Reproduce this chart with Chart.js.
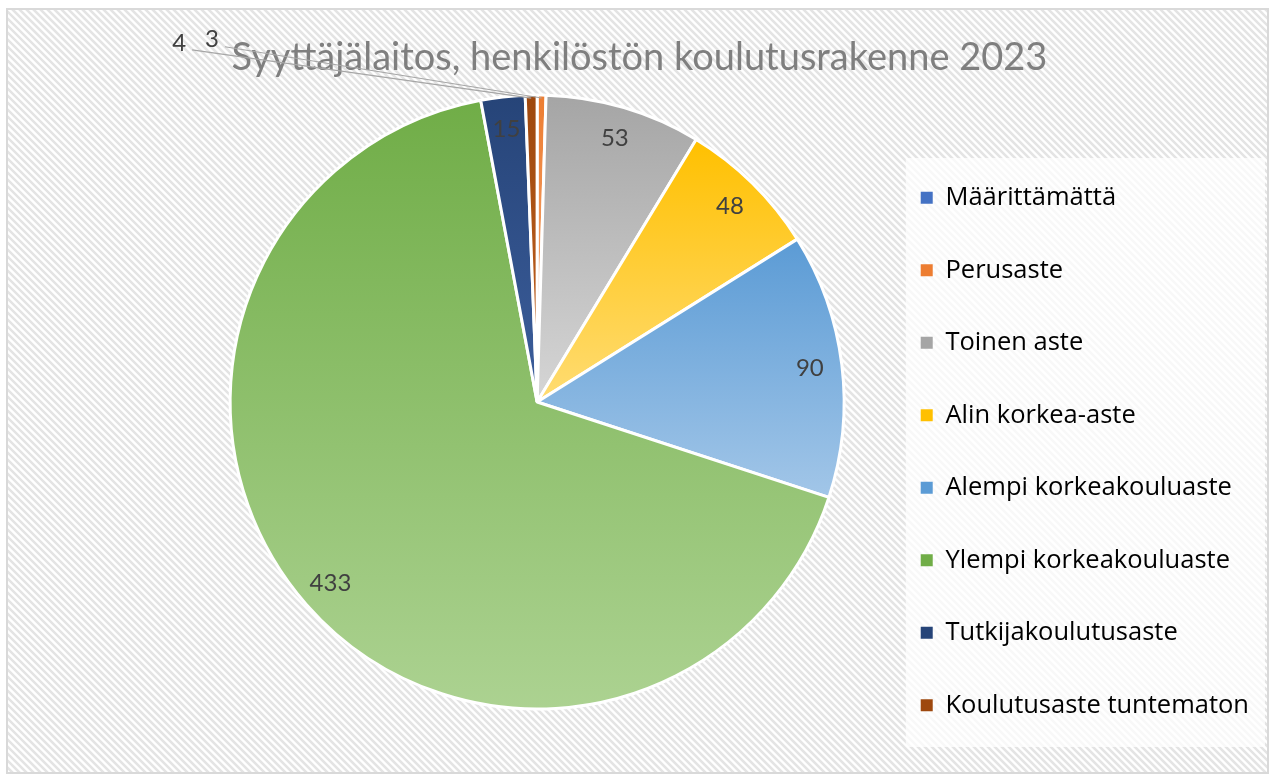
<!DOCTYPE html>
<html>
<head>
<meta charset="utf-8">
<script src="https://cdn.jsdelivr.net/npm/chart.js@4.4.1/dist/chart.umd.min.js"></script>
<style>
  html, body { margin: 0; padding: 0; background: #fff; }
  canvas { display: block; }
</style>
</head>
<body>
<canvas id="myChart" width="1275" height="774"></canvas>
<script>
// otsikko ja data
const otsikko = 'Syyttäjälaitos, henkilöstön koulutusrakenne 2023';
const koulutusasteet = [
  'Määrittämättä',
  'Perusaste',
  'Toinen aste',
  'Alin korkea-aste',
  'Alempi korkeakouluaste',
  'Ylempi korkeakouluaste',
  'Tutkijakoulutusaste',
  'Koulutusaste tuntematon'
];
const henkilot = [0, 3, 53, 48, 90, 433, 15, 4];

// värit: siivun yläreuna -> alareuna (liukuväri niinkuin Excelissä)
const varitYla = ['#4472C4', '#ED7D31', '#A5A5A5', '#FFC000', '#5B9BD5', '#70AD47', '#264478', '#9E480E'];
const varitAla = ['#8FAADC', '#F4B183', '#D6D6D6', '#FFDC73', '#A2C6E8', '#ACD291', '#3C5E9C', '#C4631F'];

const SADE = 307; // piiraan säde pikseleinä

// pienet siivut joiden arvo piirretään ulos (suhteessa säteeseen)
const ulkoTekstit = { 1: [-1.059, -1.18], 7: [-1.166, -1.17] };

const yhteensa = henkilot.reduce((a, b) => a + b, 0);

// liukuväri jokaiselle siivulle oman korkeutensa mukaan
function liukuvari(context) {
  const i = context.dataIndex;
  const ca = context.chart.chartArea;
  if (context.type !== 'data' || !ca) return varitYla[i];
  const cx = (ca.left + ca.right) / 2;
  const cy = (ca.top + ca.bottom) / 2;
  let kertyma = 0;
  for (let k = 0; k < i; k++) kertyma += henkilot[k];
  const a0 = -Math.PI / 2 + 2 * Math.PI * kertyma / yhteensa;
  const a1 = a0 + 2 * Math.PI * henkilot[i] / yhteensa;
  let ymin = Math.min(cy, cy + SADE * Math.sin(a0), cy + SADE * Math.sin(a1));
  let ymax = Math.max(cy, cy + SADE * Math.sin(a0), cy + SADE * Math.sin(a1));
  if (a0 < Math.PI / 2 && a1 > Math.PI / 2) ymax = cy + SADE; // siivu ylittää alimman kohdan
  if (ymax - ymin < 1) ymax = ymin + 1;
  const g = context.chart.ctx.createLinearGradient(0, ymin, 0, ymax);
  g.addColorStop(0, varitYla[i]);
  g.addColorStop(1, varitAla[i]);
  return g;
}

// tausta: vinoraidoitus, reunus ja selitteen vaalea laatikko
const taustaPlugin = {
  id: 'tausta',
  beforeDraw(chart) {
    const c = chart.ctx;
    const w = chart.width, h = chart.height;
    c.save();
    c.fillStyle = '#ffffff';
    c.fillRect(0, 0, w, h);
    c.beginPath();
    c.rect(7, 9, w - 14, h - 10);
    c.clip();
    c.strokeStyle = '#E4E4E4';
    c.lineWidth = 2.6;
    for (let x = -h; x < w + 10; x += 7) {
      c.beginPath();
      c.moveTo(x, 0);
      c.lineTo(x + h, h);
      c.stroke();
    }
    c.restore();
    c.save();
    c.strokeStyle = '#D9D9D9';
    c.lineWidth = 2;
    c.strokeRect(7, 9, w - 14, h - 10);
    // selitteen laatikko
    const lg = chart.legend;
    if (lg && lg.columnSizes) {
      const pad = lg.options.labels.padding;
      const yla = lg.bottom - lg.columnSizes[0].height - 27;
      const vasen = lg.left + pad - 15;
      c.fillStyle = 'rgba(255,255,255,0.72)';
      c.fillRect(vasen, yla, w - 10 - vasen, lg.bottom - 18 - yla);
    }
    c.restore();
  }
};

// otsikko ja arvot siivujen päälle
const arvoPlugin = {
  id: 'arvot',
  afterDatasetsDraw(chart) {
    const c = chart.ctx;
    c.save();
    c.font = '38px Lato';
    c.fillStyle = '#7F7F7F';
    c.textAlign = 'center';
    c.textBaseline = 'alphabetic';
    c.fillText(otsikko, chart.width / 2 + 2, 70);

    const meta = chart.getDatasetMeta(0);
    c.font = '24px Lato';
    c.fillStyle = '#404040';
    c.textBaseline = 'middle';
    meta.data.forEach((arc, i) => {
      const v = henkilot[i];
      if (!v) return;
      const mid = (arc.startAngle + arc.endAngle) / 2;
      const r = arc.outerRadius;
      if (ulkoTekstit[i]) {
        const lx = arc.x + ulkoTekstit[i][0] * r;
        const ly = arc.y + ulkoTekstit[i][1] * r;
        const tw = c.measureText(String(v)).width;
        c.strokeStyle = '#A6A6A6';
        c.lineWidth = 1.2;
        c.beginPath();
        c.moveTo(lx + tw / 2 + 6, ly + 7);
        c.lineTo(arc.x + (r - 3) * Math.cos(mid), arc.y + (r - 3) * Math.sin(mid));
        c.stroke();
        c.fillText(String(v), lx, ly);
      } else {
        c.fillText(String(v), arc.x + r * 0.895 * Math.cos(mid), arc.y + r * 0.895 * Math.sin(mid));
      }
    });
    c.restore();
  }
};

const ctx = document.getElementById('myChart').getContext('2d');
const myChart = new Chart(ctx, {
  type: 'pie',
  data: {
    labels: koulutusasteet,
    datasets: [{
      data: henkilot,
      backgroundColor: liukuvari,
      borderColor: '#ffffff',
      borderWidth: 3
    }]
  },
  options: {
    responsive: false,
    animation: false,
    radius: SADE,
    layout: { padding: { left: 200.5, right: 16, top: 39, bottom: 9 } },
    plugins: {
      tooltip: { enabled: false },
      legend: {
        position: 'right',
        align: 'end',
        labels: {
          boxWidth: 12,
          boxHeight: 12,
          padding: 47,
          color: '#595959',
          font: { family: 'Open Sans', size: 25.5 },
          generateLabels: () => koulutusasteet.map((nimi, i) => ({
            text: nimi,
            fillStyle: varitYla[i],
            strokeStyle: varitYla[i],
            lineWidth: 0,
            hidden: false,
            index: i
          }))
        }
      }
    }
  },
  plugins: [taustaPlugin, arvoPlugin]
});
</script>
</body>
</html>
